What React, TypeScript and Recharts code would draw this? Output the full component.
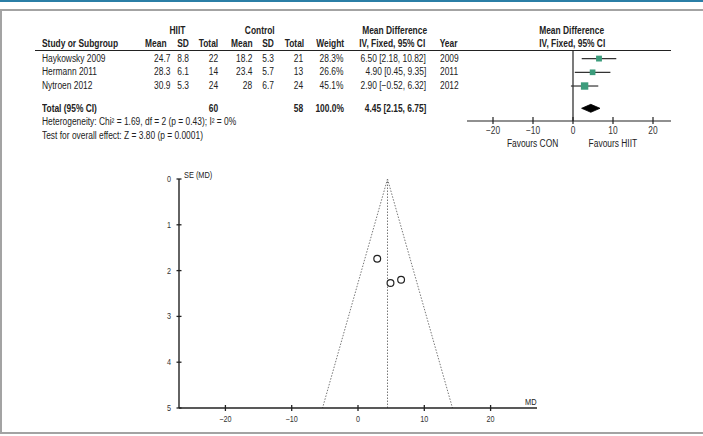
import React from 'react';
import { ComposedChart, Scatter, Area, XAxis, YAxis, ReferenceLine, ErrorBar } from 'recharts';

// study rows
const studies = ['Haykowsky 2009', 'Hermann 2011', 'Nytroen 2012'];
const hiitMean = [24.7, 28.3, 30.9];
const hiitSd = [8.8, 6.1, 5.3];
const hiitTotal = [22, 14, 24];
const ctrlMean = [18.2, 23.4, 28];
const ctrlSd = [5.3, 5.7, 6.7];
const ctrlTotal = [21, 13, 24];
const weights = [28.3, 26.6, 45.1];
const meanDiff = [6.5, 4.9, 2.9];
const ciLow = [2.18, 0.45, -0.52];
const ciHigh = [10.82, 9.35, 6.32];
const years = [2009, 2011, 2012];
const standardErrors = [2.2, 2.27, 1.74];

// pooled result
const pooledMd = 4.45;
const pooledLow = 2.15;
const pooledHigh = 6.75;
const hiitSum = 60;
const ctrlSum = 58;
const weightSum = 100;

// funnel limits at SE = 5
const funnelLeft = -5.35;
const funnelRight = 14.25;
const seMax = 5;

const mdTicks = [-20, -10, 0, 10, 20];
const seTicks = [0, 1, 2, 3, 4, 5];

// no narrow face installed, so plain Liberation Sans gets squeezed horizontally
const FONT = "'Liberation Sans', Arial, sans-serif";
const SQUEEZE = 0.84;
const INK = '#222';
const GREEN = '#3c9c7c';

// vertical slots in the forest panel (row 1..3, then the total)
const rowSlots = [1, 3, 5];
const totalSlot = 8.25;

const fmt = (v: number, d: number) => v.toFixed(d).replace('-', '\u2212');
const ciText = (m: number, lo: number, hi: number) => `${fmt(m, 2)} [${fmt(lo, 2)}, ${fmt(hi, 2)}]`;

const studyPoints = studies.map((s, i) => ({
  x: meanDiff[i],
  row: rowSlots[i],
  err: [meanDiff[i] - ciLow[i], ciHigh[i] - meanDiff[i]],
  weight: weights[i],
}));

const diamond = [
  { x: pooledLow, band: [totalSlot, totalSlot] },
  { x: pooledMd, band: [totalSlot - 0.58, totalSlot + 0.58] },
  { x: pooledHigh, band: [totalSlot, totalSlot] },
];

const funnelPoints = studies.map((s, i) => ({ x: meanDiff[i], y: standardErrors[i] }));

type TProps = { x: number; y: number; align?: 'left' | 'right' | 'center'; bold?: boolean; size?: number; children: React.ReactNode };

const T = ({ x, y, align = 'left', bold = false, size = 10, children }: TProps) => {
  const style: React.CSSProperties = {
    position: 'absolute',
    top: y - 7,
    lineHeight: '14px',
    fontSize: size,
    fontWeight: bold ? 700 : 400,
    whiteSpace: 'nowrap',
    color: INK,
  };
  if (align === 'left') style.left = x;
  if (align === 'right') {
    style.right = 703 - x;
    style.textAlign = 'right';
  }
  if (align === 'center') {
    style.left = x - 100;
    style.width = 200;
    style.textAlign = 'center';
  }
  return (
    <div style={style}>
      <span style={{ display: 'inline-block', transform: `scaleX(${SQUEEZE})`, transformOrigin: align }}>{children}</span>
    </div>
  );
};

// svg text squeezed the same way as the html labels
const SvgText = ({ x, y, anchor, size, children }: { x: number; y: number; anchor: 'start' | 'middle' | 'end'; size: number; children: React.ReactNode }) => (
  <text
    transform={`translate(${x},${y}) scale(${SQUEEZE},1)`}
    textAnchor={anchor}
    fontSize={size}
    fontFamily={FONT}
    fill="#333"
  >
    {children}
  </text>
);

const WeightSquare = (props: any) => {
  const { cx, cy, payload } = props;
  const s = 11 * Math.sqrt(payload.weight / 100);
  return <rect x={cx - s / 2} y={cy - s / 2} width={s} height={s} fill={GREEN} />;
};

const OpenCircle = (props: any) => {
  const { cx, cy } = props;
  return <circle cx={cx} cy={cy} r={3.4} fill="#fff" stroke={INK} strokeWidth={1.2} />;
};

const ForestTick = (props: any) => {
  const { x, y, payload } = props;
  return (
    <g>
      <line x1={x} x2={x} y1={y - 4} y2={y + 3} stroke={INK} strokeWidth={1.2} />
      <SvgText x={x} y={y + 13} anchor="middle" size={10}>{fmt(payload.value, 0)}</SvgText>
    </g>
  );
};

const FunnelXTick = (props: any) => {
  const { x, y, payload } = props;
  return (
    <g>
      <line x1={x} x2={x} y1={y - 3} y2={y + 3} stroke={INK} strokeWidth={1.3} />
      <SvgText x={x} y={y + 14} anchor="middle" size={8.6}>{fmt(payload.value, 0)}</SvgText>
    </g>
  );
};

const FunnelYTick = (props: any) => {
  const { x, y, payload } = props;
  return (
    <g>
      <line x1={x - 2.5} x2={x + 2.5} y1={y} y2={y} stroke={INK} strokeWidth={1.3} />
      <SvgText x={x - 8} y={y + 3} anchor="end" size={8.6}>{payload.value}</SvgText>
    </g>
  );
};

export default function App() {
  const rowY = [58.7, 72.2, 86];
  const cols = { hMean: 170, hSd: 188.5, hTot: 218, cMean: 252.5, cSd: 273.5, cTot: 303.5, w: 343.5, ci: 426, year: 440 };

  return (
    <div
      style={{
        position: 'absolute',
        left: 0,
        top: 0,
        width: 703,
        height: 436,
        overflow: 'hidden',
        background: '#fff',
        fontFamily: FONT,
      }}
    >
      {/* frame */}
      <div style={{ position: 'absolute', left: 0, top: 0, width: 703, height: 2, background: '#2a7ea6' }} />
      <div
        style={{
          position: 'absolute',
          left: 0,
          top: 9,
          width: 703,
          height: 425,
          borderTop: '2px solid #a3a3a3',
          borderLeft: '2px solid #a3a3a3',
          borderBottom: '2px solid #a3a3a3',
          boxSizing: 'border-box',
        }}
      />

      {/* table header */}
      <T x={177} y={30.7} align="center" bold>HIIT</T>
      <T x={260} y={30.7} align="center" bold>Control</T>
      <T x={395} y={30.7} align="center" bold>Mean Difference</T>
      <T x={572} y={30.7} align="center" bold>Mean Difference</T>
      <T x={42} y={43.7} bold>Study or Subgroup</T>
      <T x={167} y={43.7} align="right" bold>Mean</T>
      <T x={189} y={43.7} align="right" bold>SD</T>
      <T x={218} y={43.7} align="right" bold>Total</T>
      <T x={253} y={43.7} align="right" bold>Mean</T>
      <T x={274} y={43.7} align="right" bold>SD</T>
      <T x={304} y={43.7} align="right" bold>Total</T>
      <T x={344} y={43.7} align="right" bold>Weight</T>
      <T x={392.5} y={43.7} align="center" bold>IV, Fixed, 95% CI</T>
      <T x={449} y={43.7} align="center" bold>Year</T>
      <T x={572} y={43.7} align="center" bold>IV, Fixed, 95% CI</T>
      <div style={{ position: 'absolute', left: 35, top: 49.5, width: 636, height: 1.3, background: INK }} />

      {/* study rows */}
      {studies.map((s, i) => (
        <React.Fragment key={s}>
          <T x={42} y={rowY[i]}>{s}</T>
          <T x={cols.hMean} y={rowY[i]} align="right">{hiitMean[i]}</T>
          <T x={cols.hSd} y={rowY[i]} align="right">{hiitSd[i]}</T>
          <T x={cols.hTot} y={rowY[i]} align="right">{hiitTotal[i]}</T>
          <T x={cols.cMean} y={rowY[i]} align="right">{ctrlMean[i]}</T>
          <T x={cols.cSd} y={rowY[i]} align="right">{ctrlSd[i]}</T>
          <T x={cols.cTot} y={rowY[i]} align="right">{ctrlTotal[i]}</T>
          <T x={cols.w} y={rowY[i]} align="right">{`${weights[i].toFixed(1)}%`}</T>
          <T x={cols.ci} y={rowY[i]} align="right">{ciText(meanDiff[i], ciLow[i], ciHigh[i])}</T>
          <T x={cols.year} y={rowY[i]}>{years[i]}</T>
        </React.Fragment>
      ))}

      {/* total */}
      <T x={42} y={108.7} bold>Total (95% CI)</T>
      <T x={cols.hTot} y={108.7} align="right" bold>{hiitSum}</T>
      <T x={cols.cTot} y={108.7} align="right" bold>{ctrlSum}</T>
      <T x={cols.w} y={108.7} align="right" bold>{`${weightSum.toFixed(1)}%`}</T>
      <T x={cols.ci} y={108.7} align="right" bold>{ciText(pooledMd, pooledLow, pooledHigh)}</T>
      <T x={42} y={122}>Heterogeneity: Chi² = 1.69, df = 2 (p = 0.43); I² = 0%</T>
      <T x={42} y={135.7}>Test for overall effect: Z = 3.80 (p = 0.0001)</T>

      {/* forest plot */}
      <div style={{ position: 'absolute', left: 467, top: 50 }}>
        <ComposedChart width={204} height={101} data={diamond} margin={{ top: 0, right: 0, bottom: 0, left: 0 }}>
          <XAxis
            type="number"
            dataKey="x"
            domain={[-26.5, 24.5]}
            ticks={mdTicks}
            allowDataOverflow
            height={30}
            axisLine={{ stroke: INK, strokeWidth: 1.2 }}
            tickLine={false}
            tickSize={0}
            tickMargin={0}
            tick={<ForestTick />}
            interval={0}
          />
          <YAxis type="number" domain={[-0.25, 10.1]} reversed hide allowDataOverflow />
          <ReferenceLine x={0} stroke={INK} strokeWidth={1.2} />
          <Area
            type="linear"
            dataKey="band"
            stroke="#000"
            strokeWidth={0.8}
            fill="#000"
            fillOpacity={1}
            dot={false}
            activeDot={false}
            isAnimationActive={false}
          />
          <Scatter data={studyPoints} dataKey="row" shape={<WeightSquare />} isAnimationActive={false}>
            <ErrorBar dataKey="err" direction="x" width={0} stroke="#333" strokeWidth={1.2} />
          </Scatter>
        </ComposedChart>
      </div>
      <T x={532.5} y={143.5} align="center">Favours CON</T>
      <T x={613} y={143.5} align="center">Favours HIIT</T>

      {/* funnel plot */}
      <div style={{ position: 'absolute', left: 150, top: 165 }}>
        <ComposedChart width={400} height={270} margin={{ top: 14, right: 13, bottom: 0, left: 0 }}>
          <XAxis
            type="number"
            dataKey="x"
            domain={[-27, 27]}
            ticks={mdTicks}
            allowDataOverflow
            height={27}
            axisLine={{ stroke: INK, strokeWidth: 1.4 }}
            tickLine={false}
            tickSize={0}
            tickMargin={0}
            tick={<FunnelXTick />}
            interval={0}
          />
          <YAxis
            type="number"
            dataKey="y"
            domain={[0, seMax]}
            ticks={seTicks}
            reversed
            allowDataOverflow
            width={29}
            axisLine={{ stroke: INK, strokeWidth: 1.4 }}
            tickLine={false}
            tickSize={0}
            tickMargin={0}
            tick={<FunnelYTick />}
            interval={0}
          />
          <ReferenceLine
            segment={[{ x: pooledMd, y: 0 }, { x: funnelLeft, y: seMax }]}
            stroke="#777"
            strokeDasharray="1.5 1.5"
          />
          <ReferenceLine
            segment={[{ x: pooledMd, y: 0 }, { x: funnelRight, y: seMax }]}
            stroke="#777"
            strokeDasharray="1.5 1.5"
          />
          <ReferenceLine x={pooledMd} stroke="#777" strokeDasharray="1.5 1.5" />
          <Scatter data={funnelPoints} shape={<OpenCircle />} isAnimationActive={false} />
        </ComposedChart>
      </div>
      <T x={183.5} y={175} size={8.8}>SE (MD)</T>
      <T x={531} y={401.5} align="center" size={8.8}>MD</T>
    </div>
  );
}
